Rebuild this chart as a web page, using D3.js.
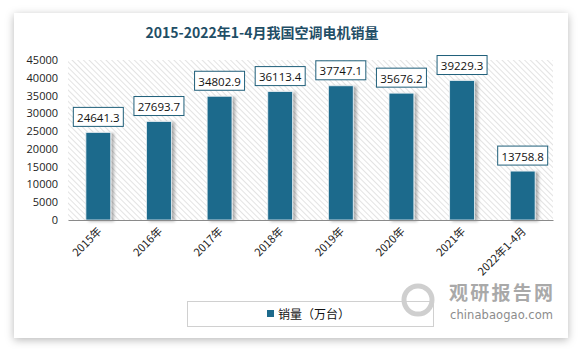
<!DOCTYPE html>
<html><head><meta charset="utf-8">
<script src="https://cdn.jsdelivr.net/npm/d3@7/dist/d3.min.js"></script>
<style>body{margin:0;background:#fff;}svg{display:block;}</style>
</head><body>
<script>
const categories = ["2015年","2016年","2017年","2018年","2019年","2020年","2021年","2022年1-4月"];
const sales = [24641.3, 27693.7, 34802.9, 36113.4, 37747.1, 35676.2, 39229.3, 13758.8];
const yTicks = [0,5000,10000,15000,20000,25000,30000,35000,40000,45000];
const title = "2015-2022年1-4月我国空调电机销量";
const seriesName = "销量（万台）";

const W = 583, H = 349;
const svg = d3.select("body").append("svg").attr("width", W).attr("height", H);
const defs = svg.append("defs");

const cs = defs.append("filter").attr("id","cardShadow").attr("x","-10%").attr("y","-10%").attr("width","120%").attr("height","120%");
cs.append("feDropShadow").attr("dx",0).attr("dy",2).attr("stdDeviation",4).attr("flood-color","#000").attr("flood-opacity",0.28);

const bs = defs.append("filter").attr("id","barShadow").attr("x","-20%").attr("y","-10%").attr("width","160%").attr("height","120%");
bs.append("feDropShadow").attr("dx",3).attr("dy",1).attr("stdDeviation",1.5).attr("flood-color","#000").attr("flood-opacity",0.3);

const pat = defs.append("pattern").attr("id","hatch").attr("patternUnits","userSpaceOnUse")
  .attr("width",4).attr("height",4).attr("patternTransform","rotate(-45)");
pat.append("rect").attr("width",4).attr("height",4).attr("fill","#fff");
pat.append("line").attr("x1",0).attr("y1",0).attr("x2",0).attr("y2",4).attr("stroke","#d4d4d4").attr("stroke-width",1.3);

// card
svg.append("rect").attr("x",14).attr("y",13).attr("width",554).attr("height",325)
  .attr("fill","#fff").attr("filter","url(#cardShadow)");

svg.append("text").attr("x",262).attr("y",38).attr("text-anchor","middle")
  .attr("font-family","'Noto Sans CJK SC', sans-serif").attr("font-weight","bold")
  .attr("font-size",14).attr("fill","#1f4e66").text(title);

const plot = {l:68, r:553, t:60, b:220};
const x = d3.scaleBand().domain(categories).range([plot.l, plot.r]).paddingInner(0.59).paddingOuter(0.295);
const y = d3.scaleLinear().domain([0,45000]).range([plot.b, plot.t]);

svg.append("rect").attr("x",plot.l).attr("y",plot.t).attr("width",plot.r-plot.l).attr("height",plot.b-plot.t)
  .attr("fill","url(#hatch)");

// y axis
const ya = svg.append("g").attr("transform",`translate(${plot.l-10},0)`)
  .call(d3.axisLeft(y).tickValues(yTicks).tickSize(0).tickPadding(0).tickFormat(d3.format("d")));
ya.select(".domain").remove();
ya.selectAll("text").attr("font-family","'Open Sans', sans-serif").attr("font-size",11).attr("fill","#222");

// bars
svg.append("g").selectAll("rect").data(sales).join("rect")
  .attr("x",(d,i)=>x(categories[i])).attr("width",x.bandwidth())
  .attr("y",d=>y(d)).attr("height",d=>y(0)-y(d))
  .attr("fill","#1d6a8c").attr("stroke","#e8f0f4").attr("stroke-width",0.8)
  .attr("filter","url(#barShadow)");

// x axis
const xa = svg.append("g").attr("transform",`translate(0,${plot.b})`)
  .call(d3.axisBottom(x).tickSize(0).tickPadding(0));
xa.select(".domain").attr("stroke","#8a8a8a").attr("stroke-width",1);
xa.selectAll("text").attr("font-family","'Noto Sans CJK SC', sans-serif").attr("font-size",11).attr("fill","#222")
  .attr("text-anchor","end").attr("dy",0)
  .attr("transform","translate(4,12) rotate(-45)");

// labels
const lg = svg.append("g").selectAll("g").data(sales).join("g")
  .attr("transform",(d,i)=>`translate(${x(categories[i])+x.bandwidth()/2},${y(d)-15})`);
lg.append("rect").attr("x",-25).attr("y",-10).attr("width",50).attr("height",19)
  .attr("fill","#fff").attr("stroke","#1f5f7a").attr("stroke-width",1);
lg.append("text").attr("text-anchor","middle").attr("y",4.5)
  .attr("font-family","'Open Sans', sans-serif").attr("font-size",11.5).attr("fill","#111")
  .text(d=>d3.format(".1f")(d));

// legend
svg.append("rect").attr("x",187.5).attr("y",301.5).attr("width",246).attr("height",25)
  .attr("fill","#fff").attr("stroke","#d0d0d0");
svg.append("rect").attr("x",267).attr("y",310).attr("width",7).attr("height",7).attr("fill","#1d6a8c");
svg.append("text").attr("x",278).attr("y",318.5).attr("font-family","'Noto Sans CJK SC', sans-serif")
  .attr("font-size",12).attr("fill","#111").text(seriesName);

// watermark
const wm = svg.append("g");
wm.append("circle").attr("cx",418).attr("cy",300).attr("r",14).attr("fill","none").attr("stroke","#cfcfcf").attr("stroke-width",5);
wm.append("text").attr("x",449).attr("y",300).attr("font-family","'Noto Sans CJK SC', sans-serif").attr("font-weight","bold")
  .attr("font-size",19).attr("fill","#a9a9a9").attr("textLength",104).text("观研报告网");
wm.append("text").attr("x",450).attr("y",319).attr("font-family","'DejaVu Sans', sans-serif")
  .attr("font-size",11.5).attr("fill","#8c8c8c").attr("textLength",103).text("chinabaogao.com");
</script>
</body></html>
